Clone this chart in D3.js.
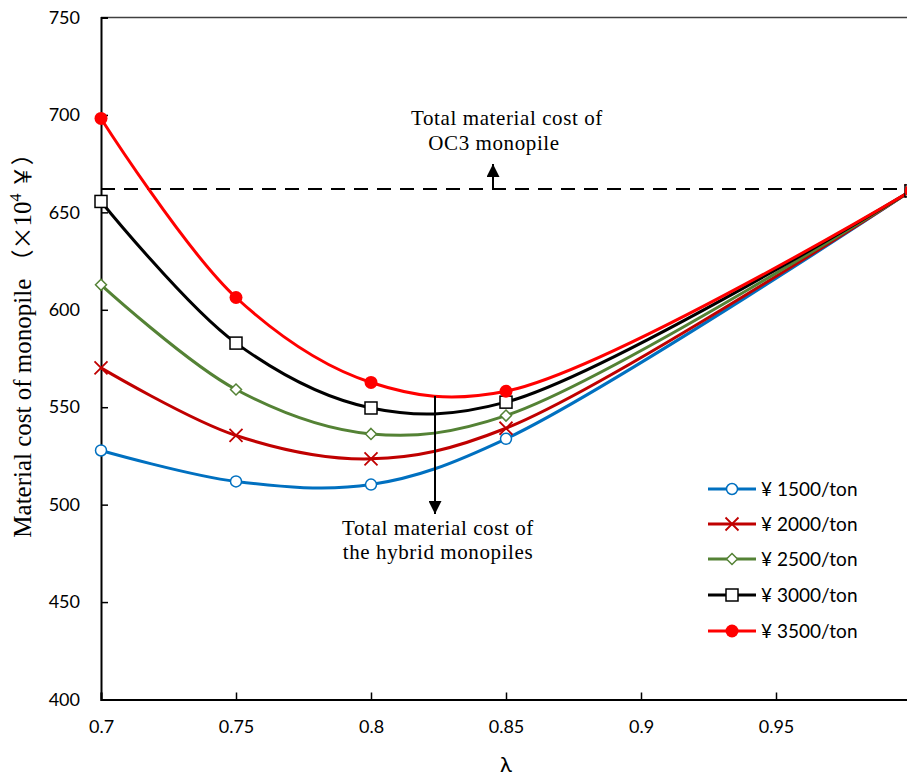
<!DOCTYPE html>
<html><head><meta charset="utf-8">
<script src="https://cdn.jsdelivr.net/npm/d3@7"></script>
<style>body{margin:0;background:#fff;overflow:hidden}svg{display:block}</style>
</head><body>
<svg id="chart" width="907" height="778"></svg>
<script>
const lambdas = [0.7, 0.75, 0.8, 0.85, 1.0];
const seriesNames = ["¥ 1500/ton", "¥ 2000/ton", "¥ 2500/ton", "¥ 3000/ton", "¥ 3500/ton"];
const cost1500 = [527.8, 511.9, 510.3, 533.8, 661];
const cost2000 = [570.2, 535.5, 523.5, 539.2, 661];
const cost2500 = [612.8, 559.1, 536.3, 545.7, 661];
const cost3000 = [655.6, 582.9, 549.6, 552.6, 661];
const cost3500 = [698.2, 606.3, 562.7, 558.2, 661];
const oc3Cost = 662;
const xTicks = [0.7, 0.75, 0.8, 0.85, 0.9, 0.95, 1];
const yTicks = [400, 450, 500, 550, 600, 650, 700, 750];

const colors = ["#0070C0", "#C00000", "#548235", "#000000", "#FF0000"];
const markers = ["circle", "cross", "diamond", "square", "dot"];
const allSeries = [cost1500, cost2000, cost2500, cost3000, cost3500];

const sans = "Lato, 'Open Sans', sans-serif";
const serif = "'Liberation Serif', 'Times New Roman', serif";
const cjk = "'Noto Sans CJK SC', 'Liberation Serif', serif";

const svg = d3.select("#chart");
const x = d3.scaleLinear().domain([0.7, 1]).range([101, 911]);
const y = d3.scaleLinear().domain([400, 750]).range([699.5, 17.5]);

// top border
svg.append("line").attr("x1", x(0.7)).attr("x2", 911).attr("y1", y(750)).attr("y2", y(750))
  .attr("stroke", "#404040").attr("stroke-width", 1.5);

// axes
const xAxis = d3.axisBottom(x).tickValues(xTicks).tickSize(-7).tickPadding(21)
  .tickFormat(d => d3.format("")(d));
const gx = svg.append("g").attr("transform", `translate(0,${y(400)})`).call(xAxis);
gx.select(".domain").attr("stroke", "#000").attr("stroke-width", 2);
gx.selectAll(".tick line").attr("stroke", "#000").attr("stroke-width", 1.5);
gx.selectAll(".tick text").attr("font-family", sans).attr("font-size", 18).attr("fill", "#000");

const yAxis = d3.axisLeft(y).tickValues(yTicks).tickSize(-7).tickPadding(21);
const gy = svg.append("g").attr("transform", `translate(${x(0.7)},0)`).call(yAxis);
gy.select(".domain").attr("stroke", "#000").attr("stroke-width", 2);
gy.selectAll(".tick line").attr("stroke", "#000").attr("stroke-width", 1.5);
gy.selectAll(".tick text").attr("font-family", sans).attr("font-size", 18).attr("fill", "#000");

// axis titles
svg.append("text").attr("x", x(0.85)).attr("y", 772).attr("text-anchor", "middle")
  .attr("font-family", sans).attr("font-size", 22).text("λ");
const yt = svg.append("text").attr("transform", `translate(31,340) rotate(-90)`)
  .attr("text-anchor", "middle").attr("font-family", serif).attr("font-size", 25);
yt.append("tspan").text("Material cost of monopile ");
yt.append("tspan").attr("font-family", cjk).attr("font-size", 23).text("（×");
yt.append("tspan").text("10");
yt.append("tspan").attr("dy", -10).attr("font-size", 16).text("4");
yt.append("tspan").attr("dy", 10).attr("font-family", cjk).attr("font-size", 23).text(" ￥）");

// dashed OC3 line
svg.append("line").attr("x1", x(0.7)).attr("x2", x(1)).attr("y1", y(oc3Cost)).attr("y2", y(oc3Cost))
  .attr("stroke", "#000").attr("stroke-width", 2).attr("stroke-dasharray", "14,9");

// arrowheads
const defs = svg.append("defs");
defs.append("marker").attr("id", "arr").attr("viewBox", "0 0 10 10").attr("refX", 10).attr("refY", 5)
  .attr("markerWidth", 14).attr("markerHeight", 13).attr("markerUnits", "userSpaceOnUse").attr("orient", "auto")
  .append("path").attr("d", "M0,0 L10,5 L0,10 Z").attr("fill", "#000");

const line = d3.line().x((d, i) => x(lambdas[i])).y(d => y(d)).curve(d3.curveCatmullRom.alpha(0.5));
const plot = svg.append("g");
allSeries.forEach((s, k) => {
  plot.append("path").datum(s).attr("d", line).attr("fill", "none")
    .attr("stroke", colors[k]).attr("stroke-width", 3);
});

function drawMarker(g, type, cx, cy, color) {
  if (type === "circle") g.append("circle").attr("cx", cx).attr("cy", cy).attr("r", 5.5).attr("fill", "#fff").attr("stroke", color).attr("stroke-width", 1.5);
  else if (type === "dot") g.append("circle").attr("cx", cx).attr("cy", cy).attr("r", 6.5).attr("fill", color);
  else if (type === "square") g.append("rect").attr("x", cx - 6).attr("y", cy - 6).attr("width", 12).attr("height", 12).attr("fill", "#fff").attr("stroke", color).attr("stroke-width", 1.5);
  else if (type === "diamond") g.append("path").attr("d", `M${cx},${cy-5.5}L${cx+5.5},${cy}L${cx},${cy+5.5}L${cx-5.5},${cy}Z`).attr("fill", "#fff").attr("stroke", color).attr("stroke-width", 1.5);
  else if (type === "cross") g.append("path").attr("d", `M${cx-6.5},${cy-6.5}L${cx+6.5},${cy+6.5}M${cx-6.5},${cy+6.5}L${cx+6.5},${cy-6.5}`).attr("stroke", color).attr("stroke-width", 1.8);
}
allSeries.forEach((s, k) => {
  s.forEach((v, i) => drawMarker(plot, markers[k], x(lambdas[i]), y(v), colors[k]));
});

// annotations
svg.append("line").attr("x1", 493).attr("x2", 493).attr("y1", y(oc3Cost)).attr("y2", 164)
  .attr("stroke", "#000").attr("stroke-width", 2).attr("marker-end", "url(#arr)");
svg.append("text").attr("x", 507).attr("y", 125).attr("text-anchor", "middle").attr("font-family", serif).attr("font-size", 21).attr("letter-spacing", 0.6).text("Total material cost of");
svg.append("text").attr("x", 494).attr("y", 150).attr("text-anchor", "middle").attr("font-family", serif).attr("font-size", 21).attr("letter-spacing", 0.6).text("OC3 monopile");

svg.append("line").attr("x1", 435).attr("x2", 435).attr("y1", 396).attr("y2", 514)
  .attr("stroke", "#000").attr("stroke-width", 2).attr("marker-end", "url(#arr)");
svg.append("text").attr("x", 438).attr("y", 535).attr("text-anchor", "middle").attr("font-family", serif).attr("font-size", 21).attr("letter-spacing", 0.6).text("Total material cost of");
svg.append("text").attr("x", 438).attr("y", 559).attr("text-anchor", "middle").attr("font-family", serif).attr("font-size", 21).attr("letter-spacing", 0.6).text("the hybrid monopiles");

// legend
const legY = [489, 524, 559, 595, 631];
seriesNames.forEach((n, k) => {
  const g = svg.append("g");
  g.append("line").attr("x1", 708).attr("x2", 756).attr("y1", legY[k]).attr("y2", legY[k]).attr("stroke", colors[k]).attr("stroke-width", 3);
  drawMarker(g, markers[k], 732, legY[k], colors[k]);
  g.append("text").attr("x", 761).attr("y", legY[k]).attr("dy", "0.35em").attr("font-family", sans).attr("font-size", 19).text(n);
});
</script>
</body></html>
